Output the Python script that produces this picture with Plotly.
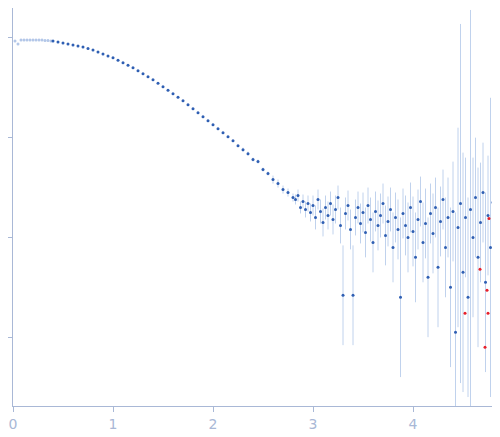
import plotly.graph_objects as go
import numpy as np

# low-q (light blue) points: q, log10 I
low_q = [0.02, 0.05, 0.08, 0.11, 0.14, 0.17, 0.2, 0.23, 0.26, 0.29, 0.32, 0.35, 0.38]
low_log = [-0.03, -0.06, -0.02, -0.02, -0.02, -0.02, -0.02, -0.02, -0.02, -0.02, -0.025, -0.025, -0.03]

# smooth region: q, log10 I, log error
smooth_q = [0.4, 0.45, 0.5, 0.55, 0.6, 0.65, 0.7, 0.75, 0.8, 0.85, 0.9, 0.95, 1.0, 1.05, 1.1, 1.15, 1.2,
            1.25, 1.3, 1.35, 1.4, 1.45, 1.5, 1.55, 1.6, 1.65, 1.7, 1.75, 1.8, 1.85, 1.9, 1.95, 2.0,
            2.05, 2.1, 2.15, 2.2, 2.25, 2.3, 2.35, 2.4, 2.45, 2.5, 2.55, 2.6, 2.65, 2.7, 2.75, 2.8]
smooth_log = [-0.03, -0.04, -0.05, -0.06, -0.07, -0.08, -0.09, -0.105, -0.12, -0.14, -0.16, -0.18, -0.20,
              -0.225, -0.25, -0.275, -0.30, -0.33, -0.36, -0.39, -0.42, -0.455, -0.49, -0.525, -0.56,
              -0.595, -0.63, -0.67, -0.71, -0.75, -0.79, -0.83, -0.87, -0.91, -0.95, -0.99, -1.03,
              -1.08, -1.12, -1.16, -1.22, -1.24, -1.32, -1.36, -1.42, -1.46, -1.52, -1.55, -1.60]
smooth_err = [0.003]*12 + [0.005]*14 + [0.01]*12 + [0.02]*6 + [0.04]*5

# noisy region: (q, log10 I, log error)
noisy = [(2.825,-1.62,.05),(2.85,-1.58,.06),(2.875,-1.70,.06),(2.9,-1.64,.07),(2.925,-1.72,.08),(2.95,-1.66,.08),
 (2.975,-1.75,.09),(3.0,-1.68,.1),(3.025,-1.80,.12),(3.05,-1.62,.1),(3.075,-1.74,.12),(3.1,-1.85,.14),(3.125,-1.70,.12),
 (3.15,-1.78,.14),(3.175,-1.66,.12),(3.2,-1.82,.15),(3.225,-1.72,.14),(3.25,-1.60,.12),(3.275,-1.88,.18),(3.3,-2.58,.5),
 (3.325,-1.76,.16),(3.35,-1.68,.15),(3.375,-1.92,.2),(3.4,-2.58,.5),(3.425,-1.80,.18),(3.45,-1.70,.16),(3.475,-1.86,.2),
 (3.5,-1.75,.2),(3.525,-1.95,.25),(3.55,-1.68,.18),(3.575,-1.82,.22),(3.6,-2.05,.3),(3.625,-1.74,.2),(3.65,-1.88,.25),
 (3.675,-1.78,.22),(3.7,-1.66,.2),(3.725,-1.98,.3),(3.75,-1.84,.25),(3.775,-1.72,.22),(3.8,-2.10,.35),(3.825,-1.80,.25),
 (3.85,-1.92,.3),(3.875,-2.60,.8),(3.9,-1.76,.25),(3.925,-1.88,.3),(3.95,-2.00,.35),(3.975,-1.70,.25),(4.0,-1.94,.35),
 (4.025,-2.20,.45),(4.05,-1.82,.3),(4.075,-1.64,.25),(4.1,-2.05,.4),(4.125,-1.86,.35),(4.15,-2.40,.6),(4.175,-1.76,.3),
 (4.2,-1.96,.4),(4.225,-1.70,.3),(4.25,-2.30,.6),(4.275,-1.84,.35),(4.3,-1.62,.3),(4.325,-2.10,.5),(4.35,-1.80,.4),
 (4.375,-2.50,.8),(4.4,-1.74,.5),(4.425,-2.95,1.2),(4.45,-1.90,1.0),(4.475,-1.66,1.8),(4.5,-2.35,1.2),(4.525,-1.80,.6),
 (4.55,-2.60,1.0),(4.575,-1.72,2.0),(4.6,-2.00,.8),(4.625,-1.60,.6),(4.65,-2.20,.9),(4.675,-1.85,.6),(4.7,-1.55,.5),
 (4.725,-2.45,.9),(4.75,-1.78,.6),(4.775,-2.10,1.5),(4.8,-1.65,.5),(4.825,-2.30,.8),(4.85,-1.90,.6),(4.875,-1.58,.5),
 (4.9,-2.05,.7),(4.925,-1.75,.5),(4.95,-1.50,.6)]

# outliers (red)
out_q = [4.67, 4.74, 4.85, 4.91, 4.52, 4.75, 4.72, 4.76, 4.91]
out_log = [-2.32, -2.53, -2.43, -2.58, -2.76, -2.76, -3.10, -1.81, -2.35]

def errs(logs, e):
    I = 10**np.array(logs); e = np.array(e)
    return I, I*(10**e-1), I*(1-10**(-e))

fig = go.Figure()
I, up, dn = errs(low_log, [0.01]*len(low_log))
fig.add_trace(go.Scatter(x=low_q, y=I, mode="markers", marker=dict(size=3, color="#b3c7e8"),
    error_y=dict(type="data", array=up, arrayminus=dn, color="#b3c7e8", thickness=1, width=0)))
nq = [p[0] for p in noisy]; nl = [p[1] for p in noisy]; ne = [p[2] for p in noisy]
q_all = smooth_q + nq; l_all = smooth_log + nl; e_all = smooth_err + ne
I, up, dn = errs(l_all, e_all)
fig.add_trace(go.Scatter(x=q_all, y=I, mode="markers", marker=dict(size=3, color="#2f5fb3"),
    error_y=dict(type="data", array=up, arrayminus=dn, color="rgba(150,180,225,0.6)", thickness=1, width=0)))
fig.add_trace(go.Scatter(x=out_q, y=10**np.array(out_log), mode="markers", marker=dict(size=3, color="#e8202a")))

ax = "#a9b8d6"
fig.update_layout(width=500, height=437, margin=dict(l=5, r=0, t=0, b=39, autoexpand=False), showlegend=False,
    plot_bgcolor="white", paper_bgcolor="white")
fig.update_xaxes(range=[0, 4.95], tickvals=[0,1,2,3,4], showgrid=False, zeroline=False, showline=True, automargin=False,
    linecolor=ax, ticks="outside", tickcolor=ax, ticklen=5, tickfont=dict(color=ax, size=14, family="DejaVu Sans"))
fig.update_yaxes(type="log", range=[-3.69, 0.3], tickvals=[1e-3,1e-2,1e-1,1], showticklabels=False, automargin=False,
    showgrid=False, zeroline=False, showline=True, linecolor=ax, ticks="outside", tickcolor=ax, ticklen=5)
fig.write_html("out.html")
